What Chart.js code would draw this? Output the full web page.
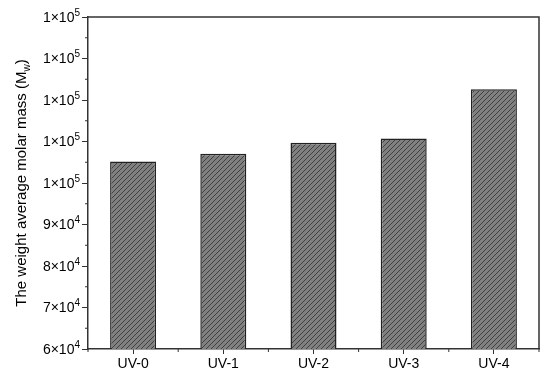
<!DOCTYPE html>
<html>
<head>
<meta charset="utf-8">
<script src="https://cdn.jsdelivr.net/npm/chart.js@4.4.0/dist/chart.umd.min.js"></script>
<style>
  html, body { margin: 0; padding: 0; background: #fff; }
  #wrap { width: 550px; height: 383px; }
</style>
</head>
<body>
<div id="wrap"><canvas id="c"></canvas></div>
<script>
// datos
const categories = ["UV-0", "UV-1", "UV-2", "UV-3", "UV-4"];
const molarMass = [105200, 107050, 109700, 110750, 122600];
const yTicks = [60000, 70000, 80000, 90000, 100000, 110000, 120000, 130000, 140000];
const yTitle = "The weight average molar mass (M";
const yTitleSub = "w";

const FONT = "'Liberation Sans', Arial, sans-serif";
const AXIS = '#333';

// patron rayado gris
function hatch() {
    const s = 5;
    const p = document.createElement('canvas');
    p.width = s; p.height = s;
    const g = p.getContext('2d');
    g.fillStyle = '#808080';
    g.fillRect(0, 0, s, s);
    g.strokeStyle = '#404040';
    g.lineWidth = 1;
    g.beginPath();
    g.moveTo(0, s); g.lineTo(s, 0);
    g.moveTo(-1, 1); g.lineTo(1, -1);
    g.moveTo(s - 1, s + 1); g.lineTo(s + 1, s - 1);
    g.stroke();
    return g.createPattern(p, 'repeat');
}

// mantisa y exponente de cada etiqueta
function tickParts(v) {
    if (v >= 100000) return ["1×10", "5"];
    return [(v / 10000) + "×10", "4"];
}

// marco, ticks menores, etiquetas y titulo del eje y
const extras = {
    id: 'extras',
    afterDraw(chart) {
        const { ctx, chartArea: a, scales } = chart;
        ctx.save();
        ctx.strokeStyle = AXIS;
        ctx.lineWidth = 1.5;
        ctx.beginPath();
        ctx.moveTo(a.left, a.top); ctx.lineTo(a.right, a.top);
        ctx.lineTo(a.right, a.bottom);
        ctx.stroke();

        // menores en y
        ctx.lineWidth = 1;
        ctx.beginPath();
        for (let i = 0; i < yTicks.length - 1; i++) {
            const y = scales.y.getPixelForValue((yTicks[i] + yTicks[i + 1]) / 2);
            ctx.moveTo(a.left - 3, y); ctx.lineTo(a.left, y);
        }
        // menores en x
        for (let i = 0; i <= categories.length; i++) {
            const x = scales.x.getPixelForValue(i - 0.5);
            ctx.moveTo(x, a.bottom); ctx.lineTo(x, a.bottom + 3);
        }
        ctx.stroke();

        // etiquetas del eje y con superindice
        const big = '14px ' + FONT, small = '10px ' + FONT;
        ctx.fillStyle = '#000';
        ctx.textBaseline = 'middle';
        ctx.textAlign = 'left';
        yTicks.forEach(v => {
            const [m, e] = tickParts(v);
            const y = scales.y.getPixelForValue(v);
            ctx.font = small;
            const we = ctx.measureText(e).width;
            ctx.font = big;
            const wm = ctx.measureText(m).width;
            const x0 = a.left - 8 - we - wm;
            ctx.fillText(m, x0, y + 1);
            ctx.font = small;
            ctx.fillText(e, x0 + wm, y - 4);
        });

        // titulo con subindice
        ctx.translate(22, (a.top + a.bottom) / 2);
        ctx.rotate(-Math.PI / 2);
        const tb = '15px ' + FONT, ts = '10px ' + FONT;
        ctx.font = tb;
        const w1 = ctx.measureText(yTitle).width;
        const w3 = ctx.measureText(')').width;
        ctx.font = ts;
        const w2 = ctx.measureText(yTitleSub).width;
        let x = -(w1 + w2 + w3) / 2;
        ctx.font = tb;
        ctx.fillText(yTitle, x, 0);
        x += w1;
        ctx.font = ts;
        ctx.fillText(yTitleSub, x, 5);
        x += w2;
        ctx.font = tb;
        ctx.fillText(')', x, 0);
        ctx.restore();
    }
};

new Chart(document.getElementById('c'), {
    type: 'bar',
    data: {
        labels: categories,
        datasets: [{
            data: molarMass,
            backgroundColor: hatch(),
            borderColor: '#222',
            borderWidth: 1.5,
            borderSkipped: false,
            categoryPercentage: 1,
            barPercentage: 0.51
        }]
    },
    options: {
        responsive: true,
        maintainAspectRatio: false,
        animation: false,
        layout: { padding: { top: 17, right: 11, left: 0, bottom: 0 } },
        plugins: { legend: { display: false }, tooltip: { enabled: false } },
        scales: {
            x: {
                offset: true,
                grid: { offset: false, drawOnChartArea: false, tickLength: 5, color: AXIS, tickWidth: 1 },
                border: { color: AXIS, width: 1.5 },
                ticks: { color: '#000', font: { family: FONT, size: 14 }, padding: 2 },
                afterFit: s => { s.height = 34; }
            },
            y: {
                min: 60000,
                max: 140000,
                afterBuildTicks: s => { s.ticks = yTicks.map(v => ({ value: v })); },
                grid: { drawOnChartArea: false, tickLength: 6, color: AXIS, tickWidth: 1 },
                border: { color: AXIS, width: 1.5 },
                ticks: { display: false },
                afterFit: s => { s.width = 88; }
            }
        }
    },
    plugins: [extras]
});
</script>
</body>
</html>
